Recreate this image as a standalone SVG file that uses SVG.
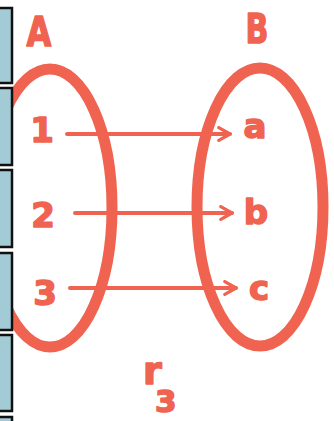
<svg xmlns="http://www.w3.org/2000/svg" width="334" height="421" viewBox="0 0 334 421">
<defs>
<style>
.set{fill:none;stroke:#EF6350;stroke-width:11}
.lbl{fill:#EF6350;stroke:#EF6350;stroke-width:1.5;stroke-linejoin:round;font-family:"DejaVu Sans","Liberation Sans",sans-serif;font-weight:bold;text-anchor:middle}
.edge{fill:none;stroke:#EF6350;stroke-width:4;stroke-linecap:round}
.box{fill:#A3CBD6;stroke:#111;stroke-width:2.5}
</style>
<marker id="ah" viewBox="0 0 10 10" refX="8" refY="5" markerWidth="4" markerHeight="4" orient="auto" markerUnits="strokeWidth">
<path d="M1,1 L8,5 L1,9" fill="none" stroke="#EF6350" stroke-width="2" stroke-linecap="round" stroke-linejoin="round"/>
</marker>
</defs>
<rect width="334" height="421" fill="#fff"/>
<g id="setA">
<ellipse class="set" cx="50" cy="208" rx="62" ry="139"/>
<text class="lbl" x="39" y="46" font-size="40" transform="translate(39 46) scale(0.8 1) translate(-39 -46)">A</text>
</g>
<g id="setB">
<ellipse class="set" cx="260" cy="207" rx="63" ry="139"/>
<text class="lbl" x="257" y="43" font-size="40" transform="translate(257 43) scale(0.75 1) translate(-257 -43)">B</text>
</g>
<g id="n1"><text class="lbl" x="42" y="142" font-size="34">1</text></g>
<g id="n2"><text class="lbl" x="43" y="227" font-size="34">2</text></g>
<g id="n3"><text class="lbl" x="45" y="305" font-size="34">3</text></g>
<g id="na"><text class="lbl" x="255" y="138" font-size="34">a</text></g>
<g id="nb"><text class="lbl" x="256" y="224" font-size="34">b</text></g>
<g id="nc"><text class="lbl" x="259" y="300" font-size="34">c</text></g>
<g id="label"><text class="lbl" style="text-anchor:start" x="143" y="384" font-size="38">r<tspan x="155" y="412" font-size="31">3</tspan></text></g>
<g id="connectors">
<line class="edge" x1="67" y1="134" x2="230" y2="134" marker-end="url(#ah)"/>
<line class="edge" x1="75" y1="213" x2="232" y2="213" marker-end="url(#ah)"/>
<line class="edge" x1="70" y1="288" x2="236" y2="288" marker-end="url(#ah)"/>
</g>
<g id="strip">
<rect class="box" x="-5" y="8" width="17" height="75"/>
<rect class="box" x="-5" y="88" width="17" height="77"/>
<rect class="box" x="-5" y="170" width="17" height="77"/>
<rect class="box" x="-5" y="253" width="17" height="77"/>
<rect class="box" x="-5" y="335" width="17" height="76"/>
<rect class="box" x="-5" y="417" width="17" height="20"/>
</g>
</svg>
